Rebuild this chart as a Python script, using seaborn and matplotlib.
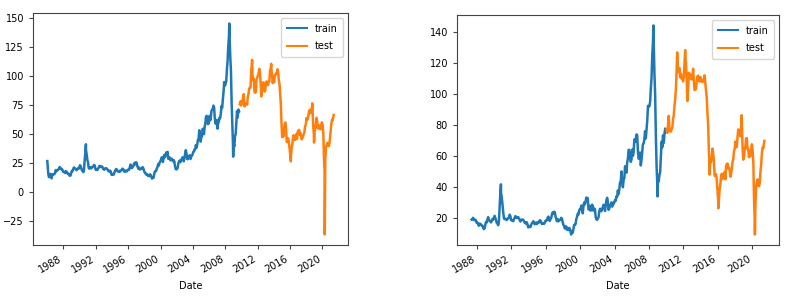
# Oil prices: train / test split, WTI (left) and Brent (right)
import pandas as pd
import seaborn as sns
import matplotlib.pyplot as plt
import matplotlib.dates as mdates

# WTI monthly levels, Jan 1986 .. May 2021
wti_start = "1986-01"
wti_monthly = [
    22.9, 15.4, 12.6, 12.8, 15.4, 13.4, 11.6, 15.1, 14.9, 14.9, 15.2, 16.1,
    18.7, 17.7, 18.3, 18.6, 19.4, 20.0, 21.4, 20.3, 19.5, 19.8, 18.9, 17.3,
    17.1, 16.7, 16.2, 17.9, 17.4, 16.5, 15.5, 15.5, 14.5, 13.8, 14.0, 16.3,
    18.0, 17.8, 19.4, 21.0, 20.0, 20.0, 19.6, 18.5, 19.6, 20.1, 19.8, 21.1,
    22.9, 22.1, 20.4, 18.4, 18.2, 16.9, 18.6, 27.2, 33.7, 35.9, 32.3, 27.3,
    25.2, 20.5, 19.9, 20.8, 21.2, 20.2, 21.4, 21.7, 21.9, 23.2, 22.5, 19.5,
    18.8, 19.0, 18.9, 20.2, 20.9, 22.4, 21.8, 21.4, 21.9, 21.7, 20.3, 19.4,
    19.0, 20.1, 20.3, 20.3, 19.9, 19.1, 17.9, 18.0, 17.5, 18.2, 16.7, 14.5,
    15.0, 14.8, 14.7, 16.4, 17.9, 19.1, 19.7, 18.4, 17.5, 17.7, 18.1, 17.2,
    18.0, 18.5, 18.6, 19.9, 19.7, 18.4, 17.3, 18.0, 18.2, 17.4, 18.0, 19.0,
    18.9, 19.1, 21.3, 23.5, 21.2, 20.4, 21.3, 21.9, 23.9, 24.9, 23.7, 25.4,
    25.2, 22.2, 20.9, 19.7, 20.8, 19.2, 19.6, 19.9, 19.8, 21.3, 20.2, 18.3,
    16.7, 16.1, 15.0, 15.4, 14.9, 13.7, 14.2, 13.4, 15.0, 14.4, 12.9, 11.3,
    12.5, 12.0, 14.7, 17.3, 17.8, 17.9, 20.1, 21.3, 23.9, 22.6, 25.0, 26.1,
    27.2, 29.4, 29.9, 25.7, 28.8, 31.8, 29.7, 31.3, 33.9, 33.1, 34.4, 28.5,
    29.6, 29.6, 27.2, 27.4, 28.6, 27.6, 26.4, 27.4, 26.2, 22.2, 19.6, 19.3,
    19.7, 20.7, 24.5, 26.2, 27.0, 25.5, 26.9, 28.4, 29.7, 28.9, 26.3, 29.4,
    32.9, 35.9, 33.5, 28.3, 28.1, 30.7, 30.8, 31.6, 28.3, 30.3, 31.1, 32.1,
    34.3, 34.7, 36.7, 36.7, 40.3, 38.0, 40.7, 44.9, 45.9, 53.1, 48.5, 43.3,
    46.8, 48.0, 54.3, 53.0, 49.8, 56.3, 58.7, 65.0, 65.6, 62.3, 58.3, 59.4,
    65.5, 61.6, 62.7, 69.4, 70.8, 70.9, 74.4, 73.0, 63.8, 58.9, 59.1, 62.0,
    54.5, 59.3, 60.4, 63.9, 63.5, 67.5, 74.1, 72.4, 79.9, 85.8, 94.8, 91.7,
    93.0, 95.4, 105.5, 112.6, 125.4, 133.9, 133.4, 116.7, 104.1, 76.6, 57.3, 41.1,
    41.7, 39.1, 47.9, 49.6, 59.0, 69.6, 64.1, 71.0, 69.4, 75.7, 78.0, 74.5,
    78.3, 76.4, 81.2, 84.3, 73.7, 75.3, 76.3, 76.6, 75.2, 81.9, 84.3, 89.2,
    89.6, 89.7, 102.9, 110.0, 101.3, 96.3, 97.3, 86.3, 85.5, 86.3, 97.2, 98.6,
    100.3, 102.2, 106.2, 103.3, 94.7, 82.3, 87.9, 94.1, 94.5, 89.5, 86.5, 87.9,
    94.8, 95.3, 92.9, 92.0, 94.5, 95.8, 104.6, 106.6, 106.3, 100.5, 93.9, 97.6,
    94.6, 100.8, 100.8, 102.1, 102.2, 105.8, 103.6, 96.5, 93.2, 84.4, 75.8, 59.3,
    47.2, 50.6, 47.8, 54.5, 59.3, 59.8, 50.9, 42.9, 45.5, 46.2, 42.4, 37.2,
    31.7, 30.3, 37.5, 40.8, 46.7, 48.8, 44.7, 44.7, 45.2, 49.8, 45.7, 52.0,
    52.5, 53.5, 49.3, 51.1, 48.5, 45.2, 46.6, 48.0, 49.8, 51.6, 56.6, 57.9,
    63.7, 62.2, 62.7, 66.3, 70.0, 67.9, 71.0, 68.1, 70.2, 70.8, 57.0, 49.5,
    51.4, 55.0, 58.2, 63.9, 60.8, 54.7, 57.4, 54.8, 57.0, 54.0, 57.1, 59.9,
    57.5, 50.5, 29.2, 16.6, 28.6, 38.3, 40.7, 42.3, 39.6, 39.4, 41.4, 47.0,
    52.0, 59.0, 62.3, 61.7, 65.2,
]
# daily highs / lows visible in the picture
wti_extra_dates = ["1986-01-02", "1990-10-11", "2008-07-03", "2008-12-23",
                   "2011-04-29", "2013-09-06", "2016-02-11", "2018-10-03",
                   "2018-12-24", "2020-04-20", "2021-05-28"]
wti_extra_vals = [26.5, 41.0, 145.3, 30.3, 113.9, 110.5, 26.2, 76.4, 42.5, -36.9, 66.3]
wti_split = "2009-10-01"

# Brent monthly levels, May 1987 .. May 2021
brent_start = "1987-05"
brent_monthly = [
    18.6, 18.9, 19.9, 19.0, 18.3, 18.7, 18.2, 16.7,
    16.8, 15.7, 14.8, 16.2, 16.0, 15.5, 14.9, 14.8, 13.4, 12.6, 13.1, 15.3,
    17.2, 16.9, 18.7, 20.3, 18.5, 17.9, 17.8, 16.9, 18.0, 19.1, 18.8, 19.9,
    21.2, 19.8, 18.4, 16.6, 16.3, 15.1, 17.2, 27.2, 35.9, 36.0, 33.1, 28.3,
    23.6, 19.5, 19.1, 19.2, 19.2, 18.4, 19.3, 19.6, 20.2, 21.9, 21.0, 18.4,
    18.2, 18.0, 17.7, 19.0, 19.9, 21.0, 20.2, 19.7, 20.3, 20.3, 19.3, 18.4,
    17.5, 18.6, 18.7, 18.8, 18.6, 17.7, 16.8, 16.9, 16.0, 17.0, 15.4, 13.7,
    14.6, 14.1, 13.9, 15.4, 16.3, 16.7, 17.7, 16.8, 15.7, 16.2, 16.9, 15.8,
    16.6, 17.2, 16.8, 18.3, 18.2, 17.1, 15.9, 16.2, 16.5, 16.0, 16.8, 18.0,
    17.9, 18.4, 20.0, 20.7, 18.6, 17.9, 19.1, 19.8, 22.2, 23.4, 22.4, 23.8,
    23.5, 20.6, 19.2, 17.7, 19.1, 17.6, 18.4, 18.5, 18.5, 19.9, 19.2, 17.1,
    15.4, 14.5, 13.0, 13.4, 14.4, 12.2, 12.1, 12.0, 13.4, 12.8, 11.0, 9.8,
    11.1, 10.3, 12.5, 15.3, 15.3, 15.9, 19.0, 20.3, 22.5, 21.9, 24.6, 25.5,
    25.5, 27.8, 27.5, 22.8, 27.6, 29.8, 28.6, 30.5, 33.0, 30.9, 32.6, 25.3,
    25.7, 27.6, 24.5, 25.7, 28.4, 27.7, 24.5, 25.8, 25.6, 20.5, 18.9, 18.6,
    19.4, 20.3, 23.7, 25.7, 25.4, 24.1, 25.8, 26.7, 28.3, 27.5, 24.3, 28.0,
    31.2, 32.8, 30.3, 25.0, 25.8, 27.6, 28.4, 29.8, 27.1, 29.6, 28.8, 29.8,
    31.2, 30.9, 33.8, 33.4, 37.6, 35.2, 38.2, 42.7, 43.2, 49.8, 43.1, 39.6,
    44.5, 45.5, 53.1, 51.9, 49.0, 55.6, 57.9, 63.8, 63.7, 59.0, 56.0, 57.6,
    63.9, 59.9, 62.3, 70.4, 70.8, 68.9, 73.7, 73.2, 62.5, 58.0, 58.8, 62.0,
    53.7, 57.6, 62.1, 67.5, 67.9, 70.6, 75.8, 71.2, 77.0, 82.5, 92.1, 91.5,
    91.9, 94.8, 103.3, 110.4, 124.6, 133.5, 133.9, 113.4, 99.1, 72.8, 53.2, 41.6,
    44.9, 43.4, 47.6, 49.2, 58.3, 69.0, 65.4, 73.1, 68.2, 73.9, 77.5, 75.2,
    76.9, 74.7, 79.9, 85.7, 77.0, 75.7, 75.5, 77.1, 78.2, 83.5, 86.1, 92.0,
    96.5, 103.7, 114.6, 123.3, 114.5, 113.9, 116.5, 110.4, 112.8, 109.6, 110.8, 107.9,
    110.7, 119.3, 125.5, 119.8, 110.3, 95.2, 102.6, 113.4, 113.0, 111.5, 109.5, 109.2,
    112.3, 116.1, 108.5, 102.3, 102.6, 102.9, 107.9, 111.3, 111.6, 109.1, 107.8, 110.8,
    108.1, 108.9, 107.5, 107.8, 109.5, 111.8, 106.8, 101.6, 97.1, 87.4, 79.4, 62.3,
    47.8, 58.1, 55.9, 59.5, 64.6, 61.7, 56.8, 47.0, 47.2, 48.1, 44.3, 38.0,
    30.7, 32.2, 38.2, 41.6, 46.7, 48.3, 44.9, 45.8, 46.6, 49.5, 44.7, 53.3,
    54.6, 54.9, 51.6, 52.3, 50.3, 46.4, 48.5, 51.7, 56.2, 57.5, 62.7, 64.4,
    69.1, 65.3, 66.0, 72.1, 76.9, 74.4, 74.3, 72.5, 78.9, 81.0, 64.8, 57.4,
    59.4, 64.0, 66.1, 71.2, 71.3, 64.2, 63.9, 59.0, 62.8, 59.7, 63.2, 67.3,
    63.6, 55.7, 32.0, 18.4, 29.4, 40.3, 43.2, 44.7, 40.9, 40.2, 42.7, 49.9,
    54.8, 62.3, 65.4, 64.8, 68.0,
]
brent_extra_dates = ["1987-05-20", "1990-10-11", "1998-12-10", "2008-07-03",
                     "2008-12-26", "2011-04-08", "2012-03-13", "2016-01-20",
                     "2018-10-03", "2020-04-21", "2021-05-28"]
brent_extra_vals = [18.5, 41.5, 9.1, 144.0, 33.7, 126.6, 128.1, 26.0, 86.1, 9.1, 69.5]
brent_split = "2010-01-01"


def build_series(start, monthly, extra_dates, extra_vals):
    dates = pd.date_range(start, periods=len(monthly), freq="MS") + pd.Timedelta(days=14)
    s = pd.Series(monthly, index=dates)
    s = pd.concat([s, pd.Series(extra_vals, index=pd.to_datetime(extra_dates))])
    return s.sort_index()


wti = build_series(wti_start, wti_monthly, wti_extra_dates, wti_extra_vals)
brent = build_series(brent_start, brent_monthly, brent_extra_dates, brent_extra_vals)

plt.rcParams["font.family"] = ["DejaVu Sans"]
plt.rcParams["font.size"] = 7

fig = plt.figure(figsize=(7.88, 3.02), dpi=100)
ax1 = fig.add_axes([33 / 788, 57 / 302, 315 / 788, 232 / 302])
ax2 = fig.add_axes([457 / 788, 57 / 302, 322 / 788, 230 / 302])

for ax, s, split in [(ax1, wti, wti_split), (ax2, brent, brent_split)]:
    train = s[s.index < split]
    test = s[s.index >= split]
    sns.lineplot(x=train.index, y=train.values, ax=ax, label="train", color="#1f77b4", linewidth=1.8)
    sns.lineplot(x=test.index, y=test.values, ax=ax, label="test", color="#ff7f0e", linewidth=1.8)
    ax.xaxis.set_major_locator(mdates.YearLocator(4))
    ax.xaxis.set_major_formatter(mdates.DateFormatter("%Y"))
    for lbl in ax.get_xticklabels():
        lbl.set_rotation(30)
        lbl.set_ha("right")
    ax.set_xlabel("Date", fontsize=7)
    ax.set_ylabel("")
    ax.tick_params(labelsize=7, length=3, color="#444444")
    for sp in ax.spines.values():
        sp.set_color("#444444")
    leg = ax.legend(loc="upper right", fontsize=7, labelspacing=0.8, borderpad=0.6)
    for line in leg.get_lines():
        line.set_linewidth(1.5)

fig.savefig("out.png", dpi=100)
